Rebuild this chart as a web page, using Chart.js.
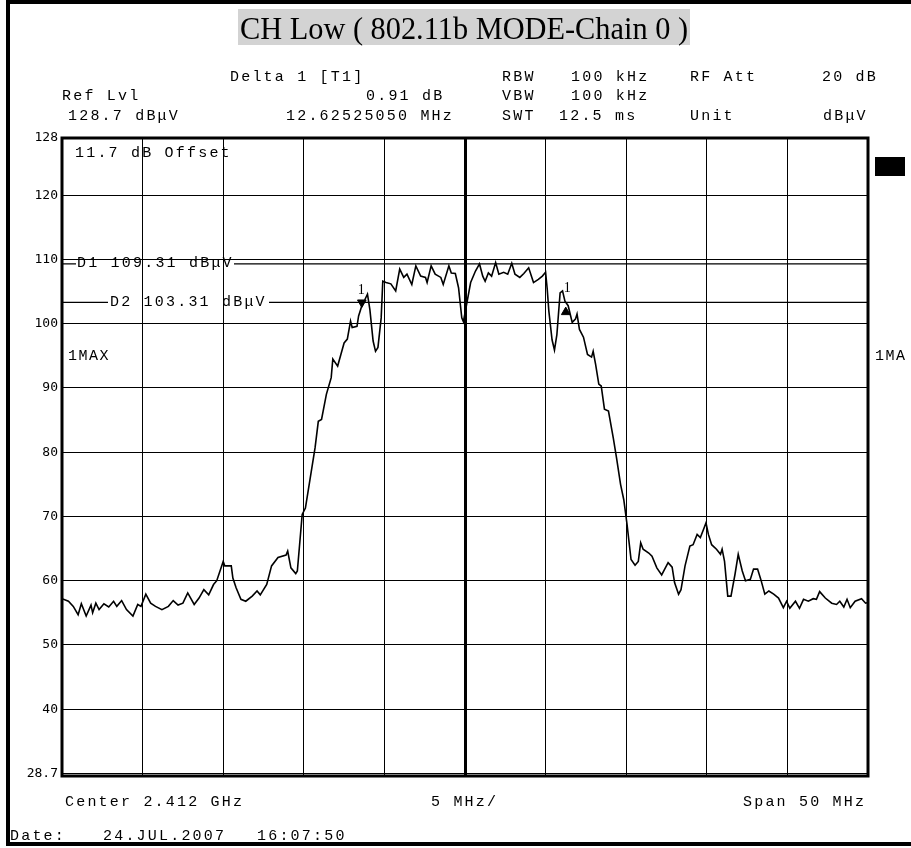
<!DOCTYPE html>
<html>
<head>
<meta charset="utf-8">
<script src="https://cdn.jsdelivr.net/npm/chart.js@4.4.0/dist/chart.umd.min.js"></script>
<style>
  body { margin: 0; background: #fff; }
  canvas { display: block; }
</style>
</head>
<body>
<canvas id="grafica" width="911" height="848"></canvas>
<script>
// frecuencia relativa al centro (MHz) y nivel medido (dBuV)
const freqMHz = [
  -25.0, -24.6, -24.3, -24.0, -23.8, -23.5, -23.2, -23.1, -22.9, -22.7,
  -22.4, -22.1, -21.8, -21.6, -21.3, -21.0, -20.6, -20.3, -20.1, -19.8,
  -19.5, -19.2, -18.8, -18.4, -18.1, -17.8, -17.5, -17.2, -16.8, -16.5,
  -16.2, -15.9, -15.6, -15.4, -15.0, -14.9, -14.5, -14.4, -14.2, -13.9,
  -13.6, -13.2, -12.9, -12.7, -12.3, -12.0, -11.6, -11.1, -11.0, -10.8,
  -10.5, -10.4, -10.1, -9.9, -9.6, -9.3, -9.1, -8.9, -8.6, -8.3,
  -8.2, -7.9, -7.7, -7.5, -7.3, -7.1, -7.0, -6.7, -6.6, -6.4,
  -6.2, -6.05, -5.9, -5.7, -5.55, -5.4, -5.2, -5.1, -4.9, -4.6,
  -4.3, -4.05, -3.8, -3.6, -3.3, -3.05, -2.75, -2.45, -2.35, -2.1,
  -1.85, -1.5, -1.35, -1.0, -0.85, -0.6, -0.4, -0.2, -0.1, 0.1,
  0.35, 0.65, 0.9, 1.1, 1.25, 1.45, 1.65, 1.9, 2.1, 2.4,
  2.65, 2.9, 3.1, 3.4, 3.65, 3.95, 4.25, 4.55, 4.8, 5.0,
  5.1, 5.2, 5.4, 5.55, 5.7, 5.9, 6.05, 6.2, 6.4, 6.65,
  6.85, 6.95, 7.1, 7.35, 7.6, 7.85, 7.95, 8.1, 8.3, 8.45,
  8.65, 8.9, 9.2, 9.4, 9.65, 9.85, 10.05, 10.3, 10.55, 10.75,
  10.9, 11.05, 11.4, 11.6, 11.9, 12.2, 12.6, 12.85, 13.0, 13.25,
  13.4, 13.65, 13.95, 14.15, 14.4, 14.6, 14.8, 14.95, 15.1, 15.3,
  15.6, 15.85, 15.95, 16.1, 16.3, 16.5, 16.75, 16.95, 17.2, 17.4,
  17.7, 17.9, 18.15, 18.35, 18.6, 18.85, 19.15, 19.45, 19.75, 19.95,
  20.15, 20.5, 20.75, 21.0, 21.3, 21.6, 21.8, 22.0, 22.35, 22.75,
  23.05, 23.25, 23.5, 23.7, 23.9, 24.2, 24.6, 24.85, 25.0
];
const nivelDb = [
  57.2, 56.8, 56.0, 54.7, 56.4, 54.5, 56.2, 55.0, 56.5, 55.5,
  56.4, 55.9, 56.8, 56.0, 56.9, 55.5, 54.5, 56.3, 56.0, 57.9,
  56.5, 56.0, 55.5, 56.0, 56.9, 56.2, 56.5, 58.1, 56.3, 57.3,
  58.6, 57.8, 59.4, 60.0, 63.0, 62.3, 62.3, 60.4, 58.9, 57.1,
  56.8, 57.6, 58.4, 57.8, 59.4, 62.3, 63.6, 64.0, 64.6, 62.0,
  61.1, 61.5, 70.3, 71.3, 76.0, 80.7, 84.8, 85.1, 89.0, 91.6,
  94.5, 93.4, 95.2, 97.0, 97.6, 100.4, 99.4, 99.6, 101.2, 102.8,
  103.8, 104.6, 102.2, 97.3, 95.7, 96.3, 100.9, 106.6, 106.4, 106.2,
  105.1, 108.5, 107.2, 107.7, 106.1, 109.0, 107.4, 107.2, 106.4, 109.0,
  107.7, 107.2, 106.1, 109.0, 107.9, 107.8, 105.6, 100.9, 100.3, 103.0,
  106.4, 108.2, 109.3, 107.4, 106.6, 107.9, 107.4, 109.5, 107.7, 108.0,
  107.7, 109.4, 107.7, 107.2, 107.8, 108.7, 106.4, 106.9, 107.4, 108.0,
  105.4, 102.0, 97.5, 95.9, 98.3, 104.8, 105.1, 103.5, 102.8, 100.2,
  100.7, 101.5, 99.1, 97.9, 95.2, 94.8, 95.7, 93.7, 90.6, 90.3,
  86.7, 86.4, 82.2, 79.1, 75.0, 72.6, 68.8, 63.3, 62.4, 63.0,
  65.9, 64.9, 64.3, 63.8, 62.0, 60.9, 62.8, 62.1, 59.7, 57.9,
  58.6, 62.3, 65.4, 65.6, 67.2, 66.7, 68.0, 69.0, 67.2, 65.6,
  64.9, 64.1, 64.9, 63.0, 57.6, 57.6, 61.0, 64.1, 61.5, 60.0,
  60.2, 61.8, 61.8, 60.2, 57.9, 58.4, 57.9, 57.3, 55.8, 56.8,
  55.7, 56.8, 55.7, 57.1, 56.8, 57.2, 57.1, 58.3, 57.3, 56.5,
  56.3, 56.8, 55.9, 57.1, 55.8, 56.8, 57.2, 56.5, 56.6
];

// marcadores: M1 (triangulo abajo) y delta (triangulo arriba)
const marcador1 = { x: -6.4, y: 103.3 };
const marcadorDelta = { x: 6.25, y: 101.8 };

// lineas de display D1 / D2
const lineaD1 = 109.31;
const lineaD2 = 103.31;

// eje Y: valores de las lineas y etiquetas
const ticksY = [30, 40, 50, 60, 70, 80, 90, 100, 110, 120, 128.9];
const etiquetasY = ['28.7', '40', '50', '60', '70', '80', '90', '100', '110', '120', '128'];

const titulo = 'CH Low ( 802.11b MODE-Chain 0 )';

const MONO = '15px "Liberation Mono"';
const PASO = 11.2;

function texto(ctx, str, x, y, paso) {
    for (let i = 0; i < str.length; i++) {
        ctx.fillText(str[i], x + i * (paso || PASO), y);
    }
}

const decoracion = {
    id: 'decoracion',
    beforeDraw(chart) {
        const ctx = chart.ctx;
        ctx.save();
        ctx.fillStyle = '#fff';
        ctx.fillRect(0, 0, chart.width, chart.height);
        ctx.restore();
    },
    afterDatasetsDraw(chart) {
        const ctx = chart.ctx;
        const a = chart.chartArea;
        const ys = chart.scales.y;
        ctx.save();

        // marco exterior
        ctx.strokeStyle = '#000';
        ctx.lineWidth = 4;
        ctx.strokeRect(8, 2, 930, 842);

        // titulo
        ctx.fillStyle = '#d3d3d3';
        ctx.fillRect(238, 9, 452, 36);
        ctx.fillStyle = '#000';
        ctx.font = '32px "Liberation Serif"';
        ctx.textAlign = 'center';
        ctx.textBaseline = 'alphabetic';
        ctx.fillText(titulo, 464, 39, 448);

        // cabecera
        ctx.textAlign = 'left';
        ctx.textBaseline = 'middle';
        ctx.font = MONO;
        texto(ctx, 'Delta 1 [T1]', 230, 77);
        texto(ctx, 'RBW', 502, 77);
        texto(ctx, '100 kHz', 571, 77);
        texto(ctx, 'RF Att', 690, 77);
        texto(ctx, '20 dB', 822, 77);
        texto(ctx, 'Ref Lvl', 62, 96);
        texto(ctx, '0.91 dB', 366, 96);
        texto(ctx, 'VBW', 502, 96);
        texto(ctx, '100 kHz', 571, 96);
        texto(ctx, '128.7 dBμV', 68, 116);
        texto(ctx, '12.62525050 MHz', 286, 116);
        texto(ctx, 'SWT', 502, 116);
        texto(ctx, '12.5 ms', 559, 116);
        texto(ctx, 'Unit', 690, 116);
        texto(ctx, 'dBμV', 823, 116);

        // lineas D1 / D2
        const y1 = ys.getPixelForValue(lineaD1);
        const y2 = ys.getPixelForValue(lineaD2);
        ctx.lineWidth = 1.2;
        ctx.beginPath();
        ctx.moveTo(a.left, y1); ctx.lineTo(a.left + 14, y1);
        ctx.moveTo(a.left + 172, y1); ctx.lineTo(a.right, y1);
        ctx.moveTo(a.left, y2); ctx.lineTo(a.left + 46, y2);
        ctx.moveTo(a.left + 207, y2); ctx.lineTo(a.right, y2);
        ctx.stroke();
        texto(ctx, 'D1 109.31 dBμV', a.left + 15, y1 - 1);
        texto(ctx, 'D2 103.31 dBμV', a.left + 48, y2);

        // textos dentro del grafico
        texto(ctx, '11.7 dB Offset', 75, 153);
        texto(ctx, '1MAX', 68, 356, 10.5);
        texto(ctx, '1MA', 875, 356, 10.5);
        ctx.fillRect(875, 157, 30, 19);

        // etiquetas de marcadores
        ctx.font = '14px "Liberation Serif"';
        const m1 = chart.getDatasetMeta(1).data[0];
        const md = chart.getDatasetMeta(2).data[0];
        ctx.fillText('1', m1.x - 4, m1.y - 12);
        ctx.fillText('1', md.x - 2, md.y - 24);

        // pie
        ctx.font = MONO;
        texto(ctx, 'Center 2.412 GHz', 65, 802);
        texto(ctx, '5 MHz/', 431, 802);
        texto(ctx, 'Span 50 MHz', 743, 802);
        texto(ctx, 'Date:', 10, 836);
        texto(ctx, '24.JUL.2007', 103, 836);
        texto(ctx, '16:07:50', 257, 836);

        // recuadro del area de trazado
        ctx.lineWidth = 3;
        ctx.strokeRect(a.left, a.top, a.right - a.left, a.bottom - a.top);
        ctx.restore();
    }
};

const ctx = document.getElementById('grafica').getContext('2d');
const grafica = new Chart(ctx, {
    type: 'line',
    data: {
        datasets: [
            {
                label: 'Traza 1MAX',
                data: freqMHz.map((f, i) => ({ x: f, y: nivelDb[i] })),
                borderColor: '#000',
                borderWidth: 1.6,
                pointRadius: 0,
                tension: 0
            },
            {
                type: 'scatter',
                label: 'M1',
                data: [marcador1],
                pointStyle: 'triangle',
                rotation: 180,
                pointRadius: 5,
                backgroundColor: '#000',
                borderColor: '#000'
            },
            {
                type: 'scatter',
                label: 'D1',
                data: [marcadorDelta],
                pointStyle: 'triangle',
                pointRadius: 5,
                backgroundColor: '#000',
                borderColor: '#000'
            }
        ]
    },
    options: {
        responsive: false,
        devicePixelRatio: 1,
        animation: false,
        layout: { padding: { left: 0, top: 138, right: 43, bottom: 72 } },
        plugins: {
            legend: { display: false },
            tooltip: { enabled: false }
        },
        scales: {
            x: {
                type: 'linear',
                min: -25,
                max: 25,
                ticks: { display: false, stepSize: 5 },
                border: { display: false },
                grid: {
                    color: '#000',
                    drawTicks: false,
                    lineWidth: c => (c.tick && c.tick.value === 0 ? 3 : 1)
                },
                afterFit: s => { s.height = 0; }
            },
            y: {
                min: 29.6,
                max: 128.9,
                border: { display: false },
                grid: { color: '#000', drawTicks: false, lineWidth: 1 },
                afterBuildTicks: s => { s.ticks = ticksY.map(v => ({ value: v })); },
                ticks: {
                    padding: 4,
                    color: '#000',
                    font: { family: 'DejaVu Sans Mono', size: 13 },
                    callback: (v) => etiquetasY[ticksY.indexOf(v)]
                },
                afterFit: s => { s.width = 62; }
            }
        }
    },
    plugins: [decoracion]
});
</script>
</body>
</html>
